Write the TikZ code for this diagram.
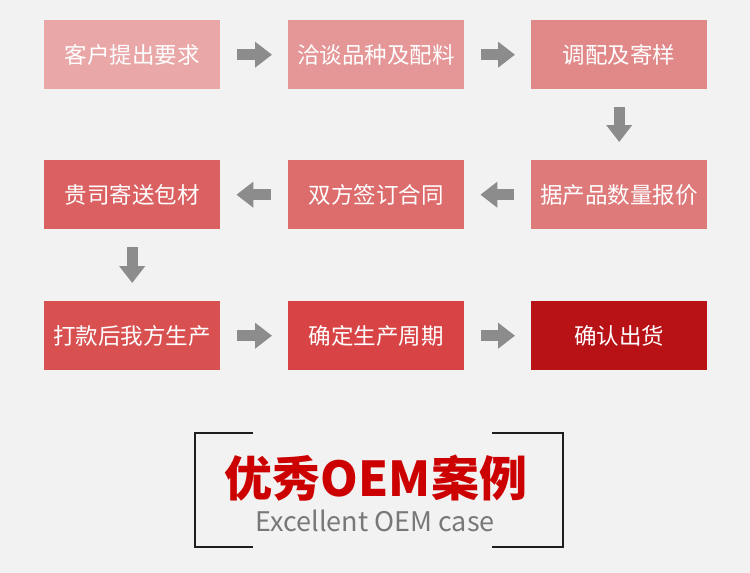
\documentclass[tikz,border=0pt]{standalone}
\usepackage{fontspec}
\setmainfont{Noto Sans CJK SC}
\usetikzlibrary{arrows.meta}
\definecolor{bg}{RGB}{242,242,242}
\definecolor{ar}{RGB}{140,140,140}
\definecolor{k1}{RGB}{233,167,168}
\definecolor{k2}{RGB}{229,150,151}
\definecolor{k3}{RGB}{225,136,137}
\definecolor{k4}{RGB}{223,122,123}
\definecolor{k5}{RGB}{221,108,109}
\definecolor{k6}{RGB}{219,96,97}
\definecolor{k7}{RGB}{217,80,81}
\definecolor{k8}{RGB}{216,68,69}
\definecolor{k9}{RGB}{184,17,22}
\definecolor{frm}{RGB}{30,30,30}
\definecolor{ttl}{RGB}{204,0,0}
\definecolor{sub}{RGB}{120,120,120}
\begin{document}
\begin{tikzpicture}[x=1pt,y=-1pt,
  box/.style={minimum width=176pt,minimum height=69pt,anchor=north west,inner sep=0pt,text=white,font=\fontsize{22.5pt}{26pt}\selectfont},
  arr/.style={draw=ar,line width=11pt,-{Triangle[length=17pt 0,width=25pt 0]}},
  frame/.style={line width=1.5pt,draw=frm}]
\fill[bg] (0,0) rectangle (750,573);
\useasboundingbox (0,0) rectangle (750,573);
\node[box,fill=k1] (a1) at (44,20) {客户提出要求};
\node[box,fill=k2] (a2) at (288,20) {洽谈品种及配料};
\node[box,fill=k3] (a3) at (531,20) {调配及寄样};
\node[box,fill=k4] (b3) at (531,160) {据产品数量报价};
\node[box,fill=k5] (b2) at (288,160) {双方签订合同};
\node[box,fill=k6] (b1) at (44,160) {贵司寄送包材};
\node[box,fill=k7] (c1) at (44,301) {打款后我方生产};
\node[box,fill=k8] (c2) at (288,301) {确定生产周期};
\node[box,fill=k9] (c3) at (531,301) {确认出货};
\draw[arr] ([xshift=17pt]a1.east) -- ([xshift=-16pt]a2.west);
\draw[arr] ([xshift=17pt]a2.east) -- ([xshift=-16pt]a3.west);
\draw[arr] ([yshift=-18pt]a3.south) -- ([yshift=18pt]b3.north);
\draw[arr] ([xshift=-17pt]b3.west) -- ([xshift=16pt]b2.east);
\draw[arr] ([xshift=-17pt]b2.west) -- ([xshift=16pt]b1.east);
\draw[arr] ([yshift=-18pt]b1.south) -- ([yshift=18pt]c1.north);
\draw[arr] ([xshift=17pt]c1.east) -- ([xshift=-16pt]c2.west);
\draw[arr] ([xshift=17pt]c2.east) -- ([xshift=-16pt]c3.west);
\draw[frame] (253,433) -- (195,433) -- (195,547) -- (253,547);
\draw[frame] (492,433) -- (563,433) -- (563,547) -- (492,547);
\node[text=ttl,font=\fontsize{48pt}{52pt}\selectfont\bfseries,inner sep=0pt] (t) at (376,478) {优秀OEM案例};
\node[text=sub,font=\fontsize{27pt}{30pt}\selectfont,inner sep=0pt] (s) at (375,521) {Excellent OEM case};
\end{tikzpicture}
\end{document}
